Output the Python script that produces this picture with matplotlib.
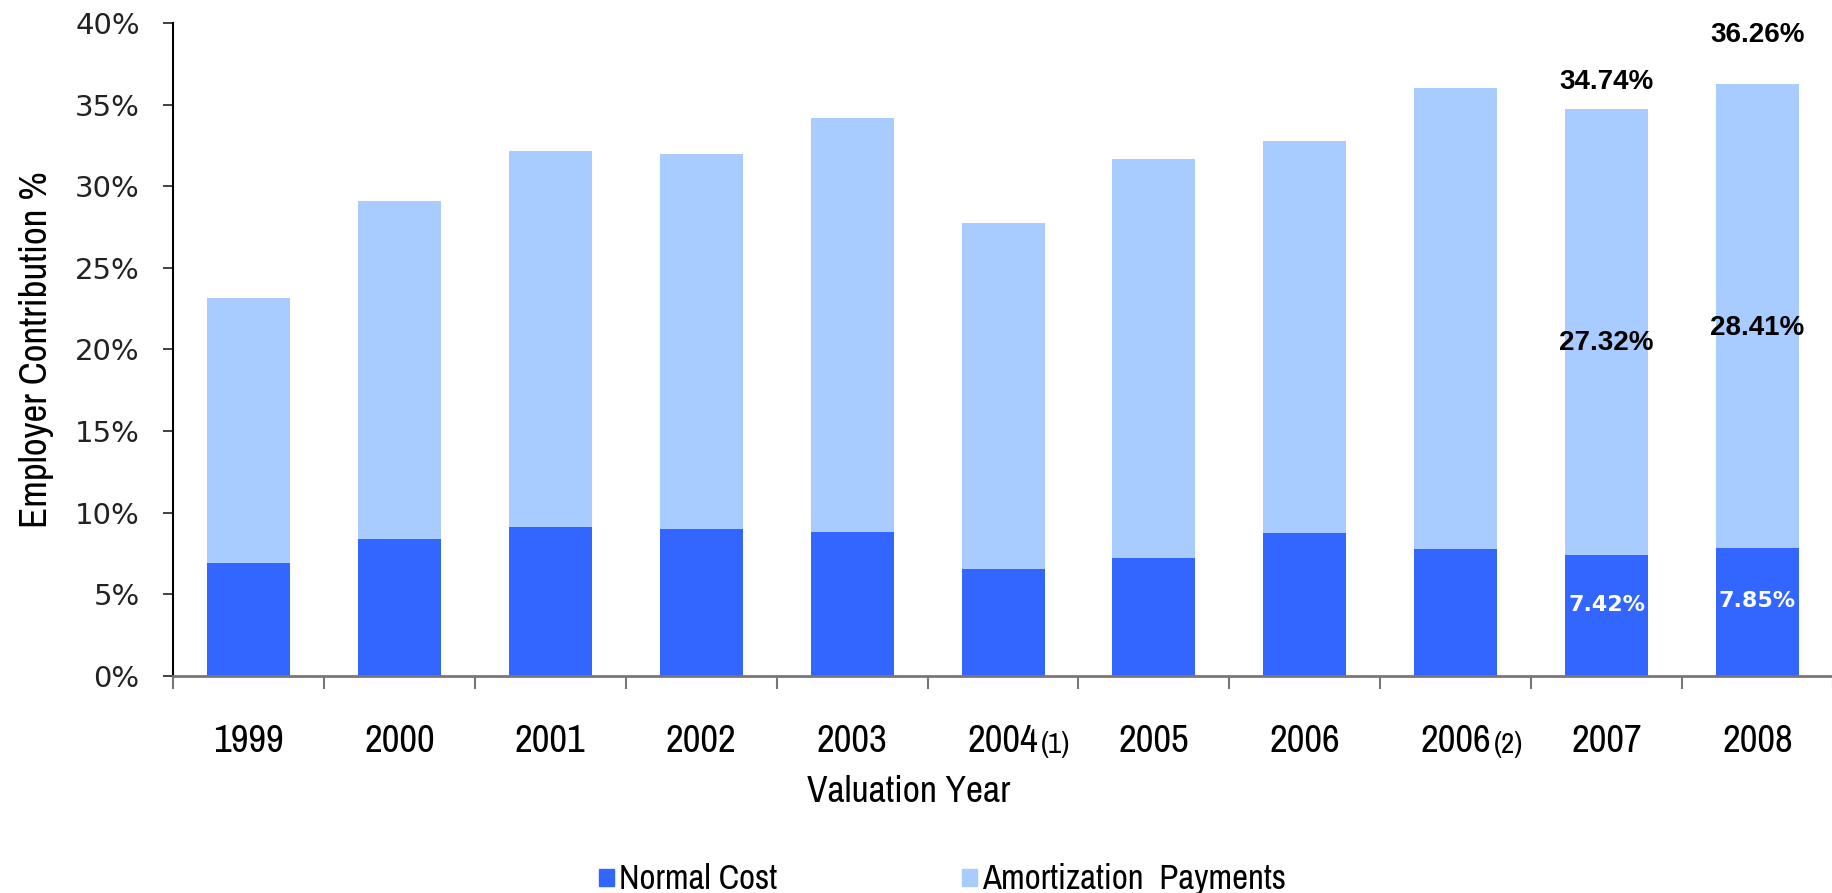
import matplotlib
matplotlib.use("Agg")
import matplotlib.pyplot as plt
from matplotlib import font_manager as fm
from matplotlib.patches import Rectangle

years = ["1999", "2000", "2001", "2002", "2003", "2004", "2005",
         "2006", "2006", "2007", "2008"]
notes = ["", "", "", "", "", "(1)", "", "", "(2)", "", ""]
normal_cost = [6.88, 8.39, 9.10, 8.96, 8.82, 6.52, 7.24, 8.75, 7.74, 7.42, 7.85]
amortization = [16.27, 20.71, 23.10, 23.01, 25.38, 21.22, 24.46, 24.01, 28.32, 27.32, 28.41]
labelled = [9, 10]  # bars that carry value labels


def pick_font(candidates, bold=False):
    for name in candidates:
        weights = [f.weight for f in fm.fontManager.ttflist if f.name == name]
        weights = [int(w) if str(w).isdigit() else (700 if w == "bold" else 400) for w in weights]
        if weights and (not bold or max(weights) >= 600):
            return name
    return "DejaVu Sans"


NARROW = pick_font(["Liberation Sans Narrow", "Arial Narrow", "Archivo Narrow",
                    "PT Sans Narrow", "Roboto Condensed", "IBM Plex Sans Condensed"])
LABEL_FONT = pick_font(["Arimo", "Liberation Sans", "Roboto"], bold=True)
C_NORMAL = "#3366ff"
C_AMORT = "#a8ccff"

fig = plt.figure(figsize=(18.33, 8.93), dpi=100)
ax = fig.add_axes([0.0944, 0.2435, 0.9056, 0.7303])

x = list(range(len(years)))
totals = [n + a for n, a in zip(normal_cost, amortization)]
ax.bar(x, normal_cost, width=0.55, color=C_NORMAL, zorder=2)
ax.bar(x, amortization, width=0.55, bottom=normal_cost, color=C_AMORT, zorder=2)

ax.set_xlim(-0.5, len(years) - 0.5)
ax.set_ylim(0, 40)

# y axis
ax.set_yticks(range(0, 41, 5))
ax.set_yticklabels([f"{v}%" for v in range(0, 41, 5)], fontsize=21, color="#222222")
ax.tick_params(axis="y", direction="out", length=7, width=1.2, color="#222222", pad=17)
ax.set_ylabel("Employer Contribution %", fontsize=28, family=NARROW, labelpad=15)

# x axis: ticks between bars, labels under bar centres
ax.set_xticks([i - 0.5 for i in range(len(years) + 1)])
ax.set_xticklabels([])
ax.tick_params(axis="x", which="major", direction="out", length=9, width=1.5, color="#777777")
ax.set_xticks(x, minor=True)
ax.set_xticklabels(years, minor=True, fontsize=28, family=NARROW)
ax.tick_params(axis="x", which="minor", length=0, pad=35)
ax.set_xlabel("Valuation Year", fontsize=27, family=NARROW)
ax.xaxis.set_label_coords(0.443, -0.153)

for lbl, note in zip(ax.get_xticklabels(minor=True), notes):
    if note:
        ax.annotate(note, xy=(1, 0.02), xycoords=lbl, xytext=(2, 0), textcoords="offset points",
                    ha="left", va="bottom", fontsize=21, family=NARROW)

for side in ("top", "right"):
    ax.spines[side].set_visible(False)
ax.spines["left"].set_color("black")
ax.spines["left"].set_linewidth(1.5)
ax.spines["bottom"].set_color("#777777")
ax.spines["bottom"].set_linewidth(2)

# value labels on the last two bars
top_offset = {9: 1.65, 10: 3.0}
for i in labelled:
    ax.text(i, totals[i] + top_offset[i], f"{totals[i]:.2f}%", ha="center", va="center",
            fontsize=20, family=LABEL_FONT, fontweight="bold")
    ax.text(i, normal_cost[i] + amortization[i] * 0.475, f"{amortization[i]:.2f}%",
            ha="center", va="center", fontsize=20, family=LABEL_FONT, fontweight="bold")
    ax.text(i, normal_cost[i] * 0.58, f"{normal_cost[i]:.2f}%", ha="center", va="center",
            fontsize=16, fontweight="bold", color="white")

# legend along the bottom edge
for x0, col, name in [(0.327, C_NORMAL, "Normal Cost"), (0.525, C_AMORT, "Amortization  Payments")]:
    fig.patches.append(Rectangle((x0, 0.008), 0.008, 0.019, transform=fig.transFigure,
                                 color=col, figure=fig))
    fig.text(x0 + 0.0105, 0.016, name, fontsize=25, family=NARROW, va="center", ha="left")

fig.savefig("out.png", dpi=100)
